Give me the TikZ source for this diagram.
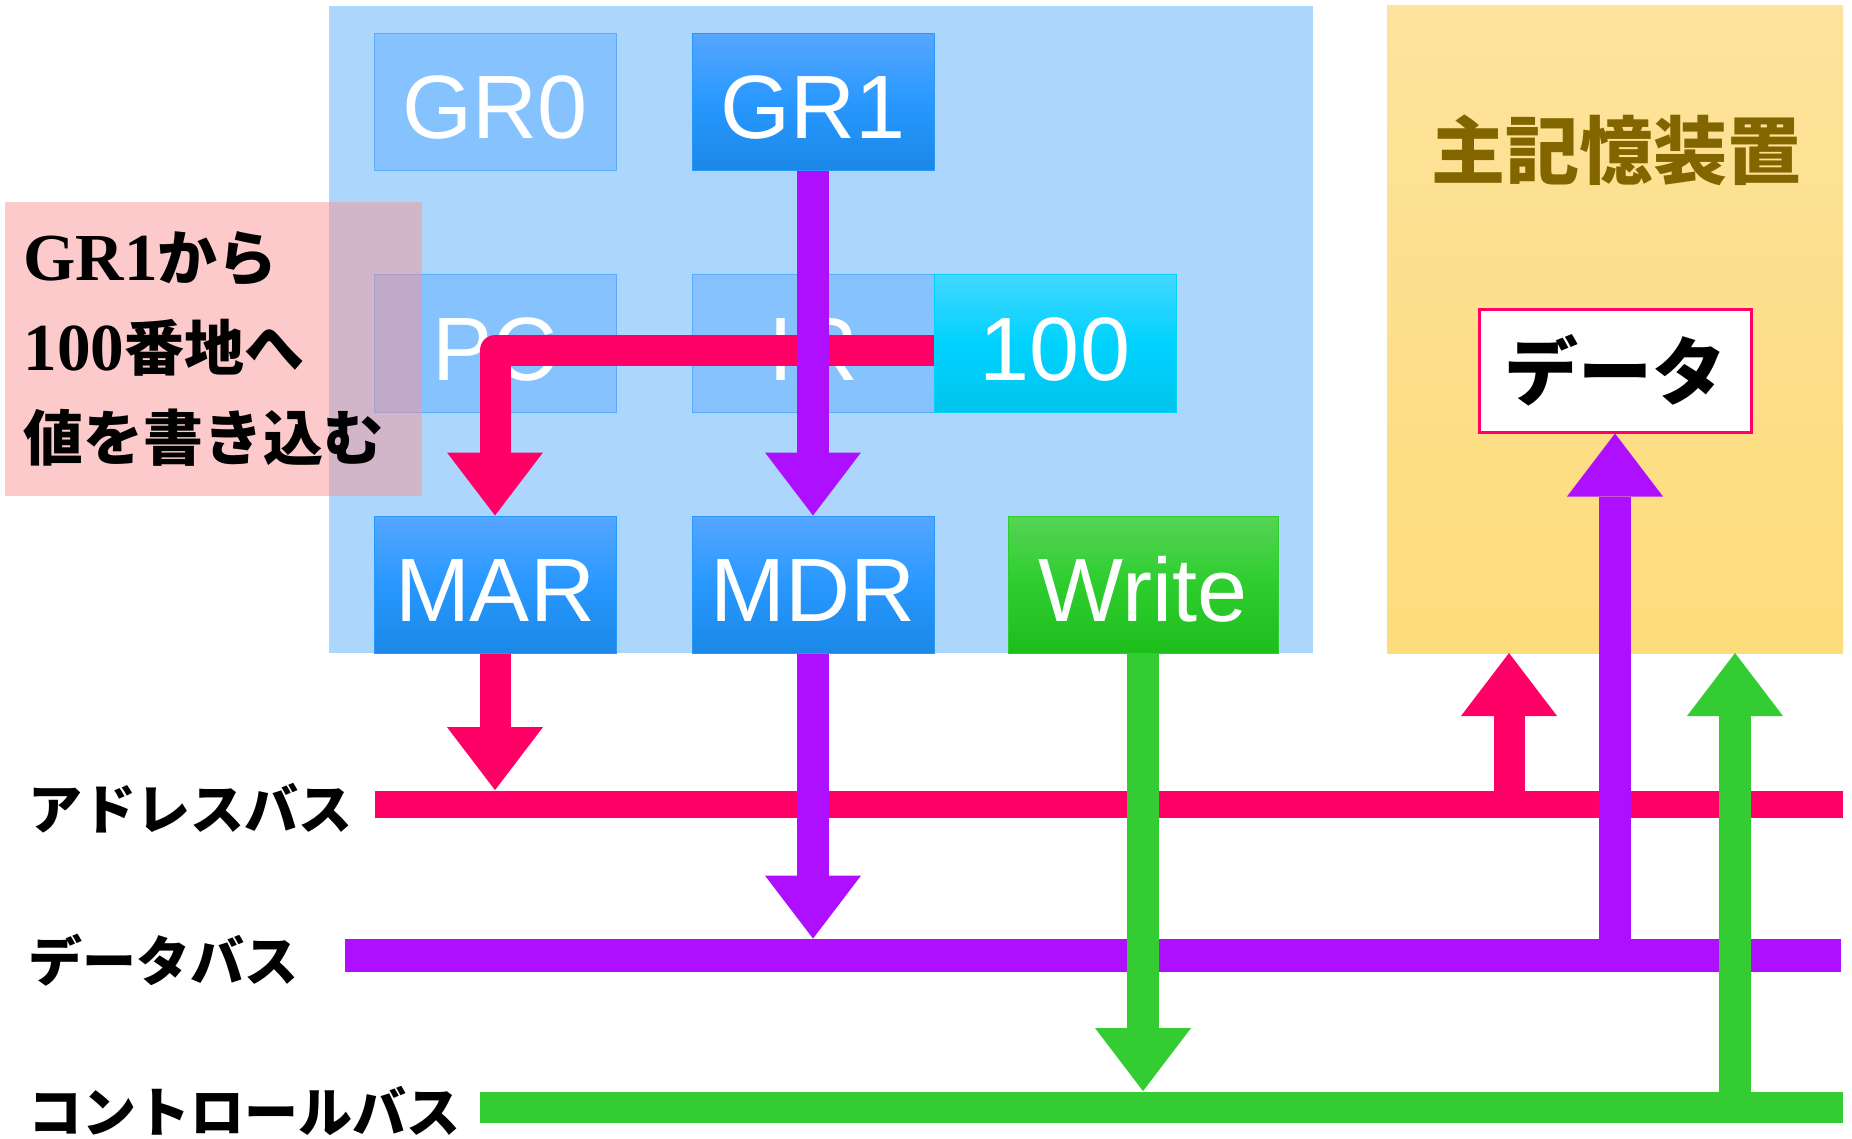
\documentclass[tikz,border=0pt]{standalone}
\usepackage{fontspec}
\setmainfont{Liberation Sans}
\newfontfamily\jpfont{Noto Sans CJK JP}
\newfontfamily\lserif{Liberation Serif}[Scale=1.12]
\usetikzlibrary{arrows.meta,calc}
\definecolor{cpu_bg}{RGB}{173,214,253}
\definecolor{fade_blue}{RGB}{134,194,253}
\definecolor{fade_edge}{RGB}{92,170,250}
\definecolor{blue_top}{RGB}{86,166,255}
\definecolor{blue_mid}{RGB}{40,152,255}
\definecolor{blue_bot}{RGB}{27,136,230}
\definecolor{cyan_top}{RGB}{66,215,255}
\definecolor{cyan_mid}{RGB}{0,210,255}
\definecolor{cyan_bot}{RGB}{0,196,236}
\definecolor{green_top}{RGB}{86,212,86}
\definecolor{green_mid}{RGB}{45,205,45}
\definecolor{green_bot}{RGB}{28,190,28}
\definecolor{mem_top}{RGB}{253,227,157}
\definecolor{mem_bot}{RGB}{253,220,122}
\definecolor{mem_text}{RGB}{131,101,0}
\definecolor{a_red}{RGB}{255,0,102}
\definecolor{a_purple}{RGB}{175,15,255}
\definecolor{a_green}{RGB}{51,204,51}
\definecolor{note_pink}{RGB}{249,150,150}
\newcommand{\boxfnt}{\fontsize{45pt}{54pt}\selectfont}
\tikzstyle{cpu}=[rectangle,fill=cpu_bg,inner sep=0pt,
  minimum width=492pt,minimum height=323.5pt]
\tikzstyle{mem}=[rectangle,top color=mem_top,bottom color=mem_bot,inner sep=0pt,
  minimum width=228pt,minimum height=323.5pt]
\tikzstyle{fb}=[rectangle,fill=fade_blue,draw=fade_edge,line width=0.5pt,text=white,
  inner sep=0pt,minimum width=121pt,minimum height=68.5pt,font=\boxfnt,
  text height=37pt,text depth=0pt]
\tikzstyle{bb}=[rectangle,top color=blue_top,bottom color=blue_bot,middle color=blue_mid,
  draw=blue_mid,line width=0.5pt,text=white,
  inner sep=0pt,minimum width=121pt,minimum height=68.5pt,font=\boxfnt,
  text height=37pt,text depth=0pt]
\tikzstyle{cb}=[rectangle,top color=cyan_top,bottom color=cyan_bot,middle color=cyan_mid,
  draw=cyan_mid,line width=0.5pt,text=white,
  inner sep=0pt,minimum width=121pt,minimum height=68.5pt,font=\boxfnt,
  text height=37pt,text depth=0pt]
\tikzstyle{gb}=[rectangle,top color=green_top,bottom color=green_bot,middle color=green_mid,
  draw=green_mid,line width=0.5pt,text=white,
  inner sep=0pt,minimum width=135pt,minimum height=68.5pt,font=\boxfnt,
  text height=37pt,text depth=0pt]
\tikzstyle{title}=[text=mem_text,inner sep=0pt,
  font=\jpfont\bfseries\fontsize{37pt}{44pt}\selectfont]
\tikzstyle{datab}=[rectangle,fill=white,draw=a_red,line width=1.5pt,inner sep=0pt,
  minimum width=136pt,minimum height=61.5pt,
  font=\jpfont\bfseries\fontsize{37pt}{44pt}\selectfont]
\tikzstyle{note}=[rectangle,fill=note_pink,fill opacity=0.5,text opacity=1,
  minimum width=208.5pt,minimum height=147pt,text width=190pt,align=left,
  inner xsep=9pt,font=\jpfont\bfseries\fontsize{30pt}{45pt}\selectfont]
\tikzstyle{lbl}=[anchor=west,inner sep=0pt,
  font=\jpfont\bfseries\fontsize{27pt}{32pt}\selectfont]
\tikzstyle{bus}=[rectangle,inner sep=0pt]
\tikzstyle{ra}=[draw=a_red,line width=15.5pt,line join=round,
  -{Triangle[length=31.5pt,width=48pt,line width=0pt]}]
\tikzstyle{pa}=[draw=a_purple,line width=16pt,
  -{Triangle[length=31.5pt,width=48pt,line width=0pt]}]
\tikzstyle{ga}=[draw=a_green,line width=16pt,
  -{Triangle[length=31.5pt,width=48pt,line width=0pt]}]
\tikzstyle{none}=[]

\begin{document}
\begin{tikzpicture}[x=0.5pt,y=-0.5pt]
            \useasboundingbox (0,0) rectangle (1852,1139);
            \node [style=cpu] (0) at (821,329.5) {};
            \node [style=mem] (1) at (1615,329.5) {};
            \node [style=title] (2) at (1616,150) {主記憶装置};
            \node [style=datab] (3) at (1615,370.5) {データ};
            \node [style=fb] (4) at (495,102) {GR0};
            \node [style=bb] (5) at (813,102) {GR1};
            \node [style=fb] (6) at (495,343.5) {PC};
            \node [style=fb] (7) at (813,343.5) {IR};
            \node [style=cb] (8) at (1055,343.5) {100};
            \node [style=bb] (9) at (495,584.5) {MAR};
            \node [style=bb] (10) at (813,584.5) {MDR};
            \node [style=gb] (11) at (1143,584.5) {Write};
            \node [style=bus,fill=a_red,minimum width=734pt,minimum height=13.5pt] (12) at (1109,804) {};
            \node [style=bus,fill=a_purple,minimum width=748pt,minimum height=16.5pt] (13) at (1093,955.5) {};
            \node [style=bus,fill=a_green,minimum width=681.5pt,minimum height=15.5pt] (14) at (1161.5,1107) {};
            \coordinate (15) at (1509,653);
            \coordinate (16) at (1735,653);
            \draw [style=ra] ($(8.west)+(0,7)$) -| (9.north);
            \draw [style=pa] (5.south) to (10.north);
            \draw [style=ra] (9.south) to (9.south |- 12.north);
            \draw [style=pa] (10.south) to (10.south |- 13.north);
            \draw [style=ga] (11.south) to (11.south |- 14.north);
            \draw [style=ra] (15 |- 12.center) to (15);
            \draw [style=pa] (3.south |- 13.center) to (3.south);
            \draw [style=ga] (16 |- 14.center) to (16);
            \node [style=note] (17) at (213.5,349) {{\lserif GR1}から\\{\lserif 100}番地へ\\値を書き込む};
            \node [style=lbl] (18) at (28,808) {アドレスバス};
            \node [style=lbl] (19) at (28,960) {データバス};
            \node [style=lbl] (20) at (28,1111) {コントロールバス};
\end{tikzpicture}
\end{document}
